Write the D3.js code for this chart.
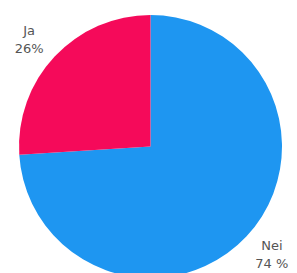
<!DOCTYPE html>
<html>
<head>
<meta charset="utf-8">
<script src="https://cdn.jsdelivr.net/npm/d3@7"></script>
<style>
  body { margin: 0; background: #fff; }
</style>
</head>
<body>
<svg id="chart" width="297" height="273"></svg>
<script>
// chart values
var labels = ["Nei", "Ja"];
var values = [74, 26];
var valueTexts = ["74 %", "26%"];
var colors = ["#1e96f1", "#f50a5a"];

var svg = d3.select("#chart");
var cx = 150.5, cy = 146.5, radius = 131.5;

var g = svg.append("g")
    .attr("transform", "translate(" + cx + "," + cy + ")");

var pie = d3.pie().sort(null).value(function (d) { return d; });
var arcs = pie(values);

var arc = d3.arc().innerRadius(0).outerRadius(radius);
var labelArc = d3.arc().innerRadius(162).outerRadius(162);
// labels sit a little counter-clockwise of the slice middle
var shift = -0.03;
var labelPos = function (d) {
    return labelArc.centroid({ startAngle: d.startAngle + shift, endAngle: d.endAngle + shift });
};

g.selectAll("path")
    .data(arcs)
    .enter()
    .append("path")
    .attr("d", arc)
    .attr("fill", function (d, i) { return colors[i]; });

// labels outside the slices, two lines each
var lbl = g.selectAll("text.lbl")
    .data(arcs)
    .enter()
    .append("text")
    .attr("class", "lbl")
    .attr("transform", function (d) { return "translate(" + labelPos(d) + ")"; })
    .attr("text-anchor", "middle")
    .attr("fill", "#555")
    .style("font-family", "DejaVu Sans, Verdana, sans-serif")
    .style("font-size", "13px");

lbl.append("tspan")
    .attr("x", 0)
    .attr("dy", "-0.3em")
    .text(function (d, i) { return labels[i]; });
lbl.append("tspan")
    .attr("x", 0)
    .attr("dy", "1.4em")
    .text(function (d, i) { return valueTexts[i]; });
</script>
</body>
</html>
